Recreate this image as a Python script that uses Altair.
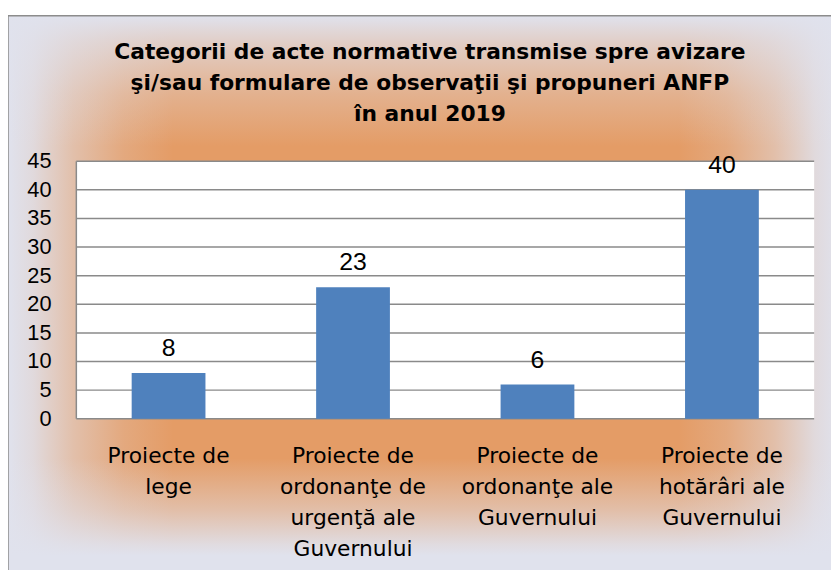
import altair as alt
import pandas as pd

# ---- data ----
categories = [
    "Proiecte de\nlege",
    "Proiecte de\nordonanţe de\nurgenţă ale\nGuvernului",
    "Proiecte de\nordonanţe ale\nGuvernului",
    "Proiecte de\nhotărâri ale\nGuvernului",
]
values = [8, 23, 6, 40]
y_ticks = [0, 5, 10, 15, 20, 25, 30, 35, 40, 45]
title_text = ("Categorii de acte normative transmise spre avizare\n"
              "şi/sau formulare de observaţii şi propuneri ANFP\n"
              "în anul 2019")

df = pd.DataFrame({"cat": categories, "val": values})
grid_df = pd.DataFrame({"tick": y_ticks})
one = pd.DataFrame({"k": [0]})

W, H = 745, 260
GRID = "#8A8A8A"
ORANGE = "#E49C66"
LAV = "224,226,237"


def lav(a):
    return f"rgba({LAV},{a})"


def lin(x1, y1, x2, y2, stops):
    return alt.LinearGradient(
        gradient="linear", x1=x1, y1=y1, x2=x2, y2=y2,
        stops=[alt.GradientStop(offset=o, color=lav(a)) for o, a in stops],
    )


fade = [(0.0, 1.0), (0.15, 0.88), (0.4, 0.5), (0.7, 0.18), (1.0, 0.0)]

# page coords -> plot coords: x - 77, y - 160
base = alt.Chart(one).mark_rect(fill=ORANGE).encode(
    x=alt.value(-69), x2=alt.value(790), y=alt.value(-147), y2=alt.value(440)
)
left_strip = alt.Chart(one).mark_rect(fill=lin(0, 0.5, 1, 0.5, fade)).encode(
    x=alt.value(-69), x2=alt.value(98), y=alt.value(-147), y2=alt.value(440)
)
right_strip = alt.Chart(one).mark_rect(fill=lin(1, 0.5, 0, 0.5, fade)).encode(
    x=alt.value(608), x2=alt.value(770), y=alt.value(-147), y2=alt.value(440)
)
top_strip = alt.Chart(one).mark_rect(
    fill=lin(0.5, 0, 0.5, 1, [(0.0, 1.0), (0.2, 0.72), (0.6, 0.3), (1.0, 0.0)])
).encode(x=alt.value(-69), x2=alt.value(790), y=alt.value(-147), y2=alt.value(-15))
bottom_strip = alt.Chart(one).mark_rect(
    fill=lin(0.5, 1, 0.5, 0, [(0.0, 1.0), (0.3, 1.0), (0.38, 0.9), (0.62, 0.5), (1.0, 0.0)])
).encode(x=alt.value(-69), x2=alt.value(790), y=alt.value(300), y2=alt.value(440))
border = alt.Chart(one).mark_rect(fill=None, fillOpacity=0, stroke="#8C8C8C", strokeWidth=1.5).encode(
    x=alt.value(-69), x2=alt.value(790), y=alt.value(-147), y2=alt.value(440)
)

title = alt.Chart(one).mark_text(
    text=title_text, lineBreak="\n", lineHeight=31, font="DejaVu Sans",
    fontWeight="bold", fontSize=22, color="#000000", align="center",
    baseline="alphabetic"
).encode(x=alt.value(357), y=alt.value(-103))

plot_bg = alt.Chart(one).mark_rect(fill="white").encode(
    x=alt.value(0), x2=alt.value(W), y=alt.value(0), y2=alt.value(H)
)

y_scale = alt.Scale(domain=[0, 45], nice=False)

grid = alt.Chart(grid_df).mark_rule(color=GRID, strokeWidth=1.5).encode(
    y=alt.Y("tick:Q", axis=None, scale=y_scale),
    x=alt.value(0), x2=alt.value(W),
)

# y tick labels drawn from the tick list through the y scale
y_labels = alt.Chart(grid_df).mark_text(
    font="Liberation Sans", fontSize=22, color="#000000", align="right",
    baseline="middle"
).encode(
    y=alt.Y("tick:Q", axis=None, scale=y_scale),
    x=alt.value(-25),
    text="tick:Q",
)

y_domain = alt.Chart(one).mark_rule(color=GRID, strokeWidth=1.5).encode(
    x=alt.value(0), y=alt.value(0), y2=alt.value(H)
)

x_axis = alt.Axis(
    labelAngle=0, ticks=False, domain=False, labelExpr="split(datum.label, '\\n')",
    labelFont="DejaVu Sans", labelFontSize=22, labelLineHeight=31.5,
    labelColor="#000000", labelPadding=27, labelLimit=0, zindex=1,
    labelBaseline="top", title=None,
)
x_scale = alt.Scale(paddingInner=0.6, paddingOuter=0.3)

bars = alt.Chart(df).mark_bar(color="#4F81BD").encode(
    x=alt.X("cat:N", sort=categories, title=None, scale=x_scale, axis=x_axis),
    y=alt.Y("val:Q", axis=None, scale=y_scale),
)

labels = alt.Chart(df).mark_text(
    font="Liberation Sans", fontSize=25, color="#000000", dy=-17,
    baseline="alphabetic", align="center"
).encode(
    x=alt.X("cat:N", sort=categories, title=None, scale=x_scale, axis=x_axis),
    y=alt.Y("val:Q", axis=None, scale=y_scale),
    text="val:Q",
)

chart = alt.layer(
    base, left_strip, right_strip, top_strip, bottom_strip, border,
    title, plot_bg, grid, y_domain, y_labels, bars, labels
).properties(
    width=W, height=H,
    autosize=alt.AutoSizeParams(type="none"),
    padding={"left": 69, "top": 152, "right": 17, "bottom": 150},
).configure_view(stroke=None).configure(background="white")

chart.save("out.html", embed_options={"renderer": "svg", "actions": False})
